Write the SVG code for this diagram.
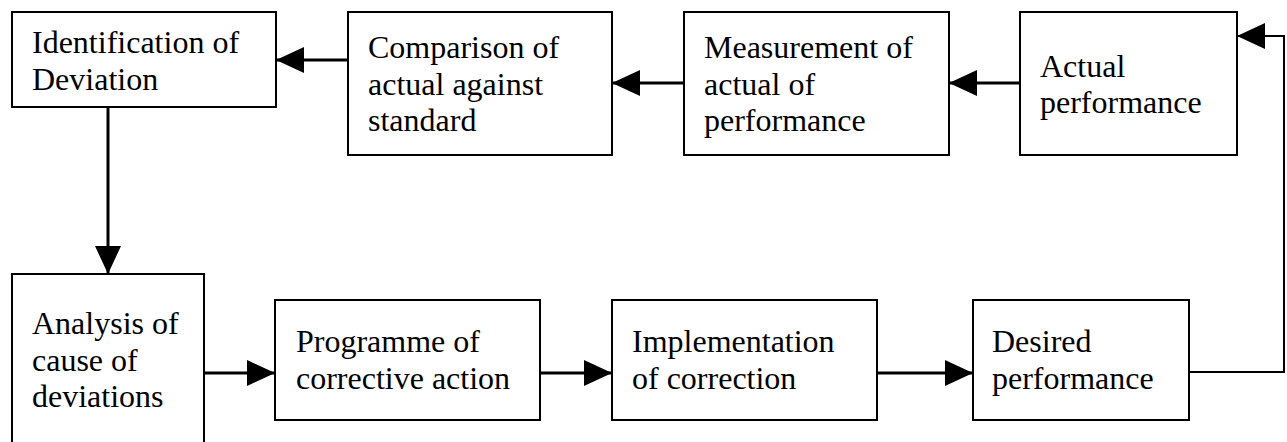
<svg xmlns="http://www.w3.org/2000/svg" width="1287" height="442" viewBox="0 0 1287 442">
<style>
.box{fill:#fff;stroke:#000;stroke-width:2}
.t{font-family:"Liberation Serif","Times New Roman",serif;font-size:32px;fill:#000}
.c{stroke:#000;stroke-width:3;fill:none}
.f{stroke:#000;stroke-width:2;fill:none}
</style>
<defs>
<marker id="ah" markerUnits="userSpaceOnUse" markerWidth="28" markerHeight="26" refX="28" refY="13" orient="auto">
<path d="M0,0 L28,13 L0,26 Z" fill="#000"/>
</marker>
</defs>
<rect width="1287" height="442" fill="#fff"/>
<g id="connectors">
<line class="c" x1="348" y1="60" x2="276" y2="60" marker-end="url(#ah)"/>
<line class="c" x1="684" y1="83" x2="612" y2="83" marker-end="url(#ah)"/>
<line class="c" x1="1020" y1="83" x2="949" y2="83" marker-end="url(#ah)"/>
<line class="c" x1="108" y1="107" x2="108" y2="274" marker-end="url(#ah)"/>
<line class="c" x1="204" y1="373" x2="275" y2="373" marker-end="url(#ah)"/>
<line class="c" x1="540" y1="373" x2="612" y2="373" marker-end="url(#ah)"/>
<line class="c" x1="877" y1="373" x2="973" y2="373" marker-end="url(#ah)"/>
<polyline class="f" points="1189,372 1284,372 1284,36 1237,36" marker-end="url(#ah)"/>
</g>
<g id="identification">
<rect class="box" x="12" y="12" width="264" height="95"/>
<text class="t" x="32" y="53">Identification of</text>
<text class="t" x="32" y="90">Deviation</text>
</g>
<g id="comparison">
<rect class="box" x="348" y="12" width="264" height="143"/>
<text class="t" x="368" y="58">Comparison of</text>
<text class="t" x="368" y="95">actual against</text>
<text class="t" x="368" y="131">standard</text>
</g>
<g id="measurement">
<rect class="box" x="684" y="12" width="265" height="143"/>
<text class="t" x="704" y="58">Measurement of</text>
<text class="t" x="704" y="95">actual of</text>
<text class="t" x="704" y="131">performance</text>
</g>
<g id="actual">
<rect class="box" x="1020" y="12" width="217" height="143"/>
<text class="t" x="1040" y="77">Actual</text>
<text class="t" x="1040" y="113">performance</text>
</g>
<g id="analysis">
<rect class="box" x="12" y="274" width="192" height="180"/>
<text class="t" x="32" y="334">Analysis of</text>
<text class="t" x="32" y="371">cause of</text>
<text class="t" x="32" y="407">deviations</text>
</g>
<g id="programme">
<rect class="box" x="275" y="300" width="265" height="120"/>
<text class="t" x="296" y="352">Programme of</text>
<text class="t" x="296" y="389">corrective action</text>
</g>
<g id="implementation">
<rect class="box" x="612" y="300" width="265" height="120"/>
<text class="t" x="632" y="352">Implementation</text>
<text class="t" x="632" y="389">of correction</text>
</g>
<g id="desired">
<rect class="box" x="973" y="300" width="216" height="120"/>
<text class="t" x="992" y="352">Desired</text>
<text class="t" x="992" y="389">performance</text>
</g>
</svg>
